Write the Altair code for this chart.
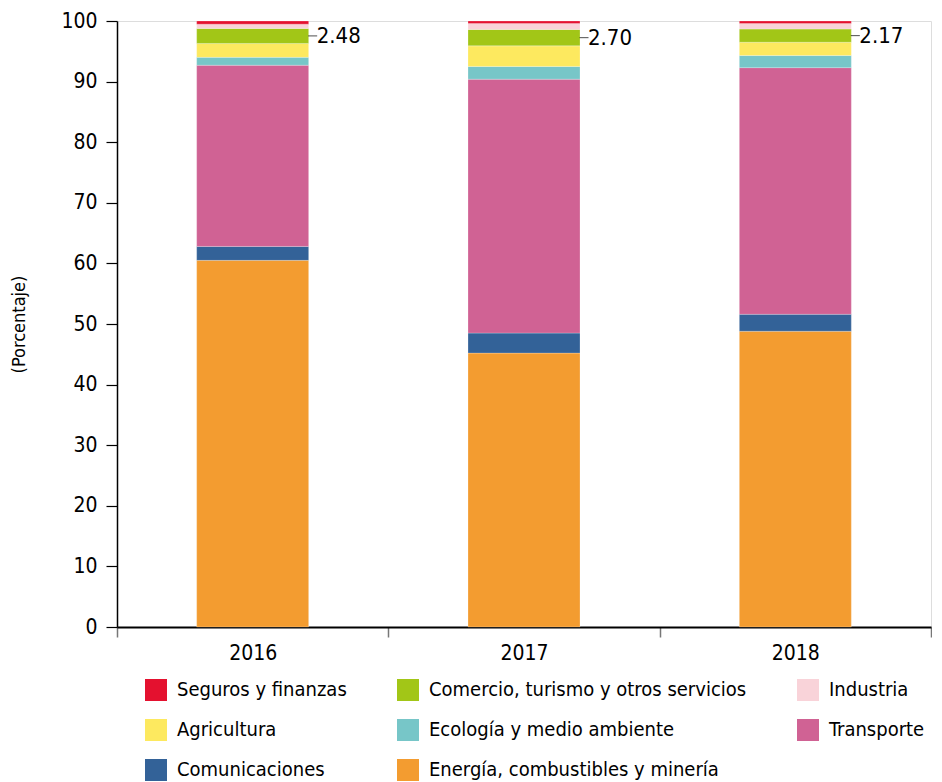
import altair as alt
import pandas as pd

years = ["2016", "2017", "2018"]
sectors = [
    "Energía, combustibles y minería",
    "Comunicaciones",
    "Transporte",
    "Ecología y medio ambiente",
    "Agricultura",
    "Comercio, turismo y otros servicios",
    "Industria",
    "Seguros y finanzas",
]
values = {
    "Energía, combustibles y minería": [60.5, 45.2, 48.8],
    "Comunicaciones": [2.3, 3.3, 2.8],
    "Transporte": [29.9, 41.9, 40.7],
    "Ecología y medio ambiente": [1.3, 2.1, 2.0],
    "Agricultura": [2.3, 3.4, 2.2],
    "Comercio, turismo y otros servicios": [2.48, 2.70, 2.17],
    "Industria": [0.7, 1.0, 0.9],
    "Seguros y finanzas": [0.52, 0.4, 0.43],
}
legend_order = [
    "Seguros y finanzas",
    "Comercio, turismo y otros servicios",
    "Industria",
    "Agricultura",
    "Ecología y medio ambiente",
    "Transporte",
    "Comunicaciones",
    "Energía, combustibles y minería",
]
colors = {
    "Seguros y finanzas": "#E4112F",
    "Comercio, turismo y otros servicios": "#A2C617",
    "Industria": "#F9D3D9",
    "Agricultura": "#FDE95F",
    "Ecología y medio ambiente": "#77C6C8",
    "Transporte": "#D06294",
    "Comunicaciones": "#336298",
    "Energía, combustibles y minería": "#F39C30",
}
label_sector = "Comercio, turismo y otros servicios"

rows = []
for i, y in enumerate(years):
    cum = 0.0
    for k, s in enumerate(sectors):
        v = values[s][i]
        rows.append({"year": y, "sector": s, "value": v, "order": k,
                     "start": cum, "end": cum + v, "mid": cum + v / 2})
        cum += v
df = pd.DataFrame(rows)
lab = df[df.sector == label_sector].copy()
lab["text"] = lab["value"].map(lambda v: f"{v:.2f}")

FONT = "Liberation Sans Narrow, DejaVu Sans Condensed, Roboto, sans-serif"

x = alt.X("year:N", title=None,
          scale=alt.Scale(paddingInner=0, paddingOuter=0),
          axis=alt.Axis(labelAngle=0, labelFontSize=21, labelFont=FONT,
                        labelColor="#000", domainColor="#000", domainWidth=2,
                        tickBand="extent", tickColor="#777", tickSize=10,
                        tickWidth=1.5, labelPadding=5))

bars = alt.Chart(df).mark_bar(size=112, stroke="white", strokeWidth=0.4, strokeOpacity=0.6).encode(
    x=x,
    y=alt.Y("start:Q", title="(Porcentaje)",
            scale=alt.Scale(domain=[0, 100], nice=False),
            axis=alt.Axis(values=list(range(0, 101, 10)), grid=False,
                          labelFontSize=21, labelFont=FONT, labelColor="#000",
                          domainColor="#000", domainWidth=1.5, tickColor="#000",
                          tickSize=11, tickWidth=1.2, labelPadding=9,
                          titleFont=FONT, titleFontSize=18, titleFontWeight="normal",
                          titleColor="#000", titlePadding=32)),
    y2="end:Q",
    color=alt.Color("sector:N",
                    scale=alt.Scale(domain=legend_order,
                                    range=[colors[s] for s in legend_order]),
                    legend=alt.Legend(title=None, orient="none", legendX=28,
                                      legendY=658, columns=3, direction="horizontal",
                                      symbolType="square", symbolSize=484,
                                      symbolStrokeWidth=0, labelFontSize=20,
                                      labelFont=FONT, labelColor="#000",
                                      labelOffset=10, rowPadding=18,
                                      columnPadding=50, labelLimit=400,
                                      gridAlign="each", padding=0)),
    order=alt.Order("order:Q"),
)

ticks = alt.Chart(lab).mark_tick(color="#000", thickness=1, size=9, xOffset=60).encode(
    x="year:N", y="mid:Q")

texts = alt.Chart(lab).mark_text(align="left", baseline="middle", fontSize=22,
                                 font=FONT, color="#000", dx=64).encode(
    x="year:N", y="mid:Q", text="text:N")

chart = alt.layer(bars, ticks, texts).properties(
    width=814, height=606,
    padding={"left": 2, "top": 2, "right": 0, "bottom": 2},
).configure_view(stroke=None).configure(font=FONT)

chart.save("out.html", embed_options={"renderer": "svg", "actions": False})
